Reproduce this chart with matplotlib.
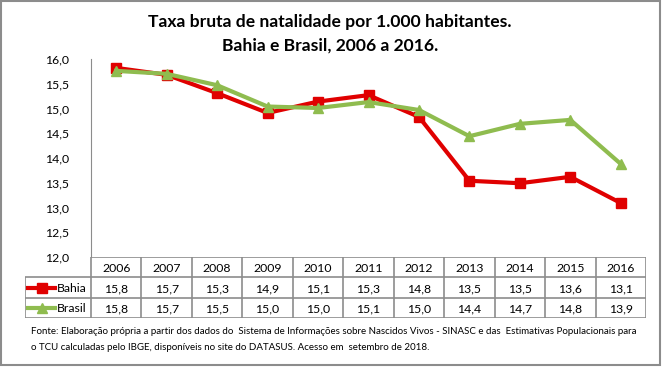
import matplotlib
matplotlib.use("Agg")
import matplotlib.pyplot as plt
from matplotlib.patches import Rectangle

plt.rcParams['font.family'] = ['Lato', 'DejaVu Sans']

# Data
anos = ["2006", "2007", "2008", "2009", "2010", "2011", "2012", "2013", "2014", "2015", "2016"]
bahia = [15.82, 15.68, 15.31, 14.91, 15.14, 15.27, 14.83, 13.54, 13.49, 13.62, 13.09]
brasil = [15.76, 15.70, 15.47, 15.04, 15.01, 15.13, 14.97, 14.44, 14.69, 14.77, 13.88]
series_names = ["Bahia", "Brasil"]
y_ticks = [12.0, 12.5, 13.0, 13.5, 14.0, 14.5, 15.0, 15.5, 16.0]

RED = "#E00000"
GREEN = "#8FBC4F"
GRID = "#8C8C8C"

W, H = 662, 367
fig = plt.figure(figsize=(W / 100, H / 100), dpi=100)

def fx(px):
    return px / W

def fy(py):
    return 1 - py / H

# outer frame
fig.patches.append(Rectangle((fx(1), fy(365)), fx(659), 364 / H, transform=fig.transFigure,
                             fill=False, edgecolor=GRID, lw=1.5))

# -----------------------------
# Line chart
# -----------------------------
left, right, top, bottom = 91, 646, 59, 257
ax = fig.add_axes([fx(left), fy(bottom), fx(right - left), (bottom - top) / H])
x = list(range(len(anos)))
ax.plot(x, bahia, color=RED, lw=3, marker="s", markersize=7, zorder=3)
ax.plot(x, brasil, color=GREEN, lw=3, marker="^", markersize=7.5, zorder=4)
ax.set_xlim(-0.5, len(anos) - 0.5)
ax.set_ylim(12, 16)
ax.set_yticks(y_ticks)
ax.set_yticklabels([f"{v:.1f}".replace(".", ",") for v in y_ticks], fontsize=8.8)
ax.set_xticks([])
for s in ["top", "right", "bottom"]:
    ax.spines[s].set_visible(False)
ax.spines["left"].set_color(GRID)
ax.tick_params(axis="y", length=0, pad=16)

# -----------------------------
# Data table
# -----------------------------
t_left, t_top, t_bottom = 25, 257, 318
axt = fig.add_axes([fx(t_left), fy(t_bottom), fx(right - t_left), (t_bottom - t_top) / H])
col_w = (right - left) / len(anos)
leg_w = (left - t_left) / col_w
axt.set_xlim(-0.5 - leg_w, len(anos) - 0.5)
axt.set_ylim(3, 0)
axt.axis("off")

# grid
axt.hlines(0, -0.5, len(anos) - 0.5, color=GRID, lw=1.2)
for r in [1, 2, 3]:
    axt.hlines(r, -0.5 - leg_w, len(anos) - 0.5, color=GRID, lw=1.2)
axt.vlines(-0.5 - leg_w, 1, 3, color=GRID, lw=1.2)
for c in range(len(anos) + 1):
    axt.vlines(c - 0.5, 0, 3, color=GRID, lw=1.2)

for i, a in enumerate(anos):
    axt.text(i, 0.55, a, ha="center", va="center", fontsize=8.8)
    axt.text(i, 1.55, f"{bahia[i]:.1f}".replace(".", ","), ha="center", va="center", fontsize=8.8)
    axt.text(i, 2.55, f"{brasil[i]:.1f}".replace(".", ","), ha="center", va="center", fontsize=8.8)

# legend keys
kx0 = -0.5 - leg_w + 3 / col_w
kx1 = -0.5 - leg_w + 30 / col_w
axt.plot([kx0, kx1], [1.5, 1.5], color=RED, lw=3)
axt.plot([(kx0 + kx1) / 2], [1.5], color=RED, marker="s", markersize=7)
axt.plot([kx0, kx1], [2.5, 2.5], color=GREEN, lw=3)
axt.plot([(kx0 + kx1) / 2], [2.5], color=GREEN, marker="^", markersize=7)
axt.text(kx1 + 2 / col_w, 1.55, series_names[0], ha="left", va="center", fontsize=8.8)
axt.text(kx1 + 2 / col_w, 2.55, series_names[1], ha="left", va="center", fontsize=8.8)

# -----------------------------
# Titles and source
# -----------------------------
fig.text(fx(330), fy(22), "Taxa bruta de natalidade por 1.000 habitantes.",
         ha="center", va="center", fontsize=12.6, fontweight="bold")
fig.text(fx(330), fy(46), "Bahia e Brasil, 2006 a 2016.",
         ha="center", va="center", fontsize=12.6, fontweight="bold")

fig.text(fx(31), fy(332),
         "Fonte: Elaboração própria a partir dos dados do  Sistema de Informações sobre Nascidos Vivos - SINASC e das  Estimativas Populacionais para",
         ha="left", va="center", fontsize=7.0)
fig.text(fx(31), fy(347),
         "o TCU calculadas pelo IBGE, disponíveis no site do DATASUS. Acesso em  setembro de 2018.",
         ha="left", va="center", fontsize=7.0)

fig.savefig("out.png", dpi=100)
